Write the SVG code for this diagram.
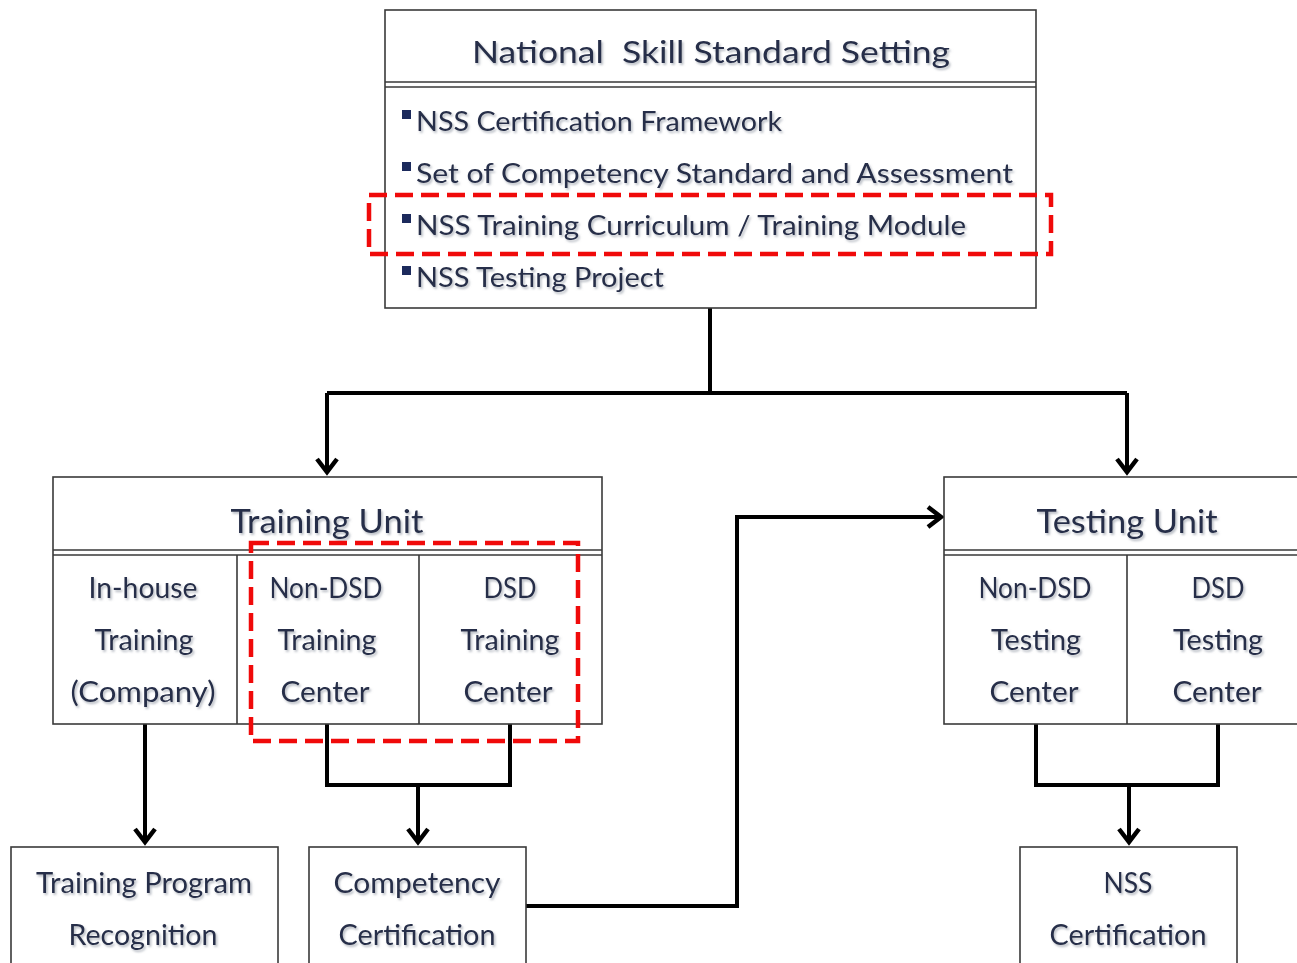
<svg xmlns="http://www.w3.org/2000/svg" width="1297" height="963" viewBox="0 0 1297 963">
<style>
.box{fill:#fff;stroke:#3a3a3a;stroke-width:1.6}
.sep{stroke:#3a3a3a;stroke-width:1.6;fill:none}
.conn{stroke:#000;stroke-width:4;fill:none}
.head{stroke:#000;stroke-width:4.5;fill:none;stroke-linejoin:miter}
.red{fill:none;stroke:#f00a0a;stroke-width:4.5;stroke-dasharray:18 8}
text{font-family:Lato,"Open Sans","Liberation Sans",sans-serif;fill:#262e48;filter:url(#sh)}
.t{font-size:31px;text-anchor:middle}
.b{font-size:27px}
.c{font-size:28px;text-anchor:middle}
.bul{fill:#1c2a5c}
</style>
<defs>
<filter id="sh" x="-5%" y="-20%" width="110%" height="150%">
<feDropShadow dx="1.5" dy="2" stdDeviation="1.2" flood-color="#7a8290" flood-opacity="0.55"/>
</filter>
</defs>

<g id="connectors">
<path class="conn" d="M710,308 V393"/>
<path class="conn" d="M327,393 H1127"/>
<path class="conn" d="M327,393 V472"/>
<path class="conn" d="M1127,393 V472"/>
<path class="conn" d="M145,724 V842"/>
<path class="conn" d="M327,724 V785 H510 V724"/>
<path class="conn" d="M418,785 V842"/>
<path class="conn" d="M1036,724 V785 H1218 V724"/>
<path class="conn" d="M1129,785 V842"/>
<path class="conn" d="M526,906 H737 V517 H940"/>
<path class="head" d="M317,459 L327,472 L337,459"/>
<path class="head" d="M1117,459 L1127,472 L1137,459"/>
<path class="head" d="M135,829 L145,842 L155,829"/>
<path class="head" d="M408,829 L418,842 L428,829"/>
<path class="head" d="M1119,829 L1129,842 L1139,829"/>
<path class="head" d="M928,507 L941,517 L928,527"/>
</g>

<g id="nss-setting">
<rect class="box" x="385" y="10" width="651" height="298"/>
<path class="sep" d="M385,82 H1036 M385,87 H1036"/>
<text class="t" x="711" y="63" textLength="478" lengthAdjust="spacingAndGlyphs">National&#160; Skill Standard Setting</text>
<rect class="bul" x="402" y="110" width="9" height="9"/>
<text class="b" x="416" y="131" textLength="366" lengthAdjust="spacingAndGlyphs">NSS Certification Framework</text>
<rect class="bul" x="402" y="162" width="9" height="9"/>
<text class="b" x="416" y="183" textLength="597" lengthAdjust="spacingAndGlyphs">Set of Competency Standard and Assessment</text>
<rect class="bul" x="402" y="214" width="9" height="9"/>
<text class="b" x="416" y="235" textLength="550" lengthAdjust="spacingAndGlyphs">NSS Training Curriculum / Training Module</text>
<rect class="bul" x="402" y="266" width="9" height="9"/>
<text class="b" x="416" y="287" textLength="248" lengthAdjust="spacingAndGlyphs">NSS Testing Project</text>
</g>

<g id="training-unit">
<rect class="box" x="53" y="477" width="549" height="247"/>
<path class="sep" d="M53,550 H602 M53,555 H602 M237,555 V724 M419,555 V724"/>
<text class="t" x="327" y="533" style="font-size:32px" textLength="193" lengthAdjust="spacingAndGlyphs">Training Unit</text>
<text class="c" x="143" y="598" textLength="109" lengthAdjust="spacingAndGlyphs">In-house</text>
<text class="c" x="144" y="650" textLength="99" lengthAdjust="spacingAndGlyphs">Training</text>
<text class="c" x="143" y="702" textLength="145" lengthAdjust="spacingAndGlyphs">(Company)</text>
<text class="c" x="326" y="598" textLength="113" lengthAdjust="spacingAndGlyphs">Non-DSD</text>
<text class="c" x="327" y="650" textLength="99" lengthAdjust="spacingAndGlyphs">Training</text>
<text class="c" x="325" y="702" textLength="89" lengthAdjust="spacingAndGlyphs">Center</text>
<text class="c" x="510" y="598" textLength="53" lengthAdjust="spacingAndGlyphs">DSD</text>
<text class="c" x="510" y="650" textLength="99" lengthAdjust="spacingAndGlyphs">Training</text>
<text class="c" x="508" y="702" textLength="89" lengthAdjust="spacingAndGlyphs">Center</text>
</g>

<g id="testing-unit">
<rect class="box" x="944" y="477" width="360" height="247"/>
<path class="sep" d="M944,550 H1297 M944,555 H1297 M1127,555 V724"/>
<text class="t" x="1127" y="533" style="font-size:32px" textLength="181" lengthAdjust="spacingAndGlyphs">Testing Unit</text>
<text class="c" x="1035" y="598" textLength="113" lengthAdjust="spacingAndGlyphs">Non-DSD</text>
<text class="c" x="1036" y="650" textLength="90" lengthAdjust="spacingAndGlyphs">Testing</text>
<text class="c" x="1034" y="702" textLength="89" lengthAdjust="spacingAndGlyphs">Center</text>
<text class="c" x="1218" y="598" textLength="53" lengthAdjust="spacingAndGlyphs">DSD</text>
<text class="c" x="1218" y="650" textLength="90" lengthAdjust="spacingAndGlyphs">Testing</text>
<text class="c" x="1217" y="702" textLength="89" lengthAdjust="spacingAndGlyphs">Center</text>
</g>

<g id="training-program-recognition">
<rect class="box" x="11" y="847" width="267" height="130"/>
<text class="c" x="144" y="893" textLength="216" lengthAdjust="spacingAndGlyphs">Training Program</text>
<text class="c" x="143" y="945" textLength="149" lengthAdjust="spacingAndGlyphs">Recognition</text>
</g>

<g id="competency-certification">
<rect class="box" x="309" y="847" width="217" height="130"/>
<text class="c" x="417" y="893" textLength="167" lengthAdjust="spacingAndGlyphs">Competency</text>
<text class="c" x="417" y="945" textLength="157" lengthAdjust="spacingAndGlyphs">Certification</text>
</g>

<g id="nss-certification">
<rect class="box" x="1020" y="847" width="217" height="130"/>
<text class="c" x="1128" y="893" textLength="49" lengthAdjust="spacingAndGlyphs">NSS</text>
<text class="c" x="1128" y="945" textLength="157" lengthAdjust="spacingAndGlyphs">Certification</text>
</g>

<g id="highlights">
<rect class="red" x="369" y="195" width="682" height="59"/>
<rect class="red" x="251" y="543" width="327" height="198"/>
</g>
</svg>
